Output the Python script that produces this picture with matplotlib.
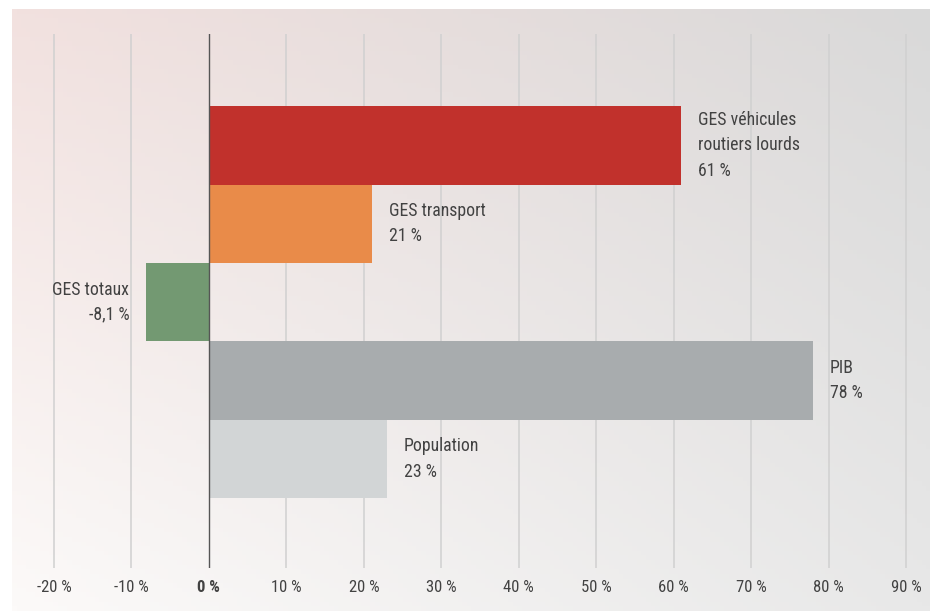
"""Variation 1990-2019 : GES, transport, PIB, population (barres horizontales)."""
import numpy as np
import matplotlib.pyplot as plt
from matplotlib import font_manager

# ------------------------------------------------------------ données
categories = ['GES véhicules\nroutiers lourds', 'GES transport', 'GES totaux', 'PIB', 'Population']
valeurs = [61, 21, -8.1, 78, 23]
etiquettes = ['61 %', '21 %', '-8,1 %', '78 %', '23 %']
couleurs = ['#C1312C', '#E98B49', '#739972', '#A8ACAE', '#D2D5D6']
ticks = [-20, -10, 0, 10, 20, 30, 40, 50, 60, 70, 80, 90]
tick_labels = ['-20 %', '-10 %', '0 %', '10 %', '20 %', '30 %', '40 %', '50 %',
               '60 %', '70 %', '80 %', '90 %']

TXT = '#424242'
names = {f.name for f in font_manager.fontManager.ttflist}
fam = [f for f in ['Roboto Condensed', 'Liberation Sans Narrow', 'Roboto'] if f in names] + ['DejaVu Sans']
plt.rcParams['font.family'] = fam

W, H = 930, 611
fig = plt.figure(figsize=(W / 100, H / 100), dpi=100, facecolor='white')

# fond dégradé (rose en haut à gauche -> gris à droite)
bg = fig.add_axes([12 / W, 0, 1 - 12 / W, (H - 9) / H], zorder=0)
tl, tr = np.array([242, 225, 223]), np.array([217, 217, 217])
bl, br = np.array([252, 250, 249]), np.array([232, 232, 232])
u = np.linspace(0, 1, 200)[None, :, None]
v = np.linspace(0, 1, 130)[:, None, None]
grad = ((1 - v) * ((1 - u) * tl + u * tr) + v * ((1 - u) * bl + u * br)) / 255
bg.imshow(grad, aspect='auto', extent=[0, 1, 0, 1], origin='upper')
bg.axis('off')

# axe principal
ppu = (906 - 54) / 110
x0 = 54 - ppu
ax = fig.add_axes([x0 / W, (H - 568) / H, (110 + 2) * ppu / W, 534 / H], zorder=1)
ax.patch.set_alpha(0)
ypos = np.arange(len(valeurs))
ax.barh(ypos, valeurs, height=1.0, color=couleurs, zorder=3)
ax.set_xlim(-21, 91)
ax.set_ylim(5.39, -1.42)
for t in ticks:
    ax.axvline(t, color='#D0D0D0' if t else '#555555', lw=1.1 if t else 1.0, zorder=1 if t else 4)
for s in ax.spines.values():
    s.set_visible(False)
ax.set_yticks([])
ax.set_xticks(ticks)
ax.set_xticklabels(tick_labels, fontsize=12, color=TXT)
ax.get_xticklabels()[ticks.index(0)].set_fontweight('bold')
ax.tick_params(axis='x', length=0, pad=9)

off = 17 / ppu
for y, v, cat, lab in zip(ypos, valeurs, categories, etiquettes):
    txt = f'{cat}\n{lab}'
    if v >= 0:
        ax.text(v + off, y, txt, ha='left', va='center', fontsize=12.8, color=TXT, linespacing=1.52)
    else:
        ax.text(v - off, y, txt, ha='right', va='center', fontsize=12.8, color=TXT, linespacing=1.52)

fig.savefig('out.png', dpi=100, facecolor='white')
